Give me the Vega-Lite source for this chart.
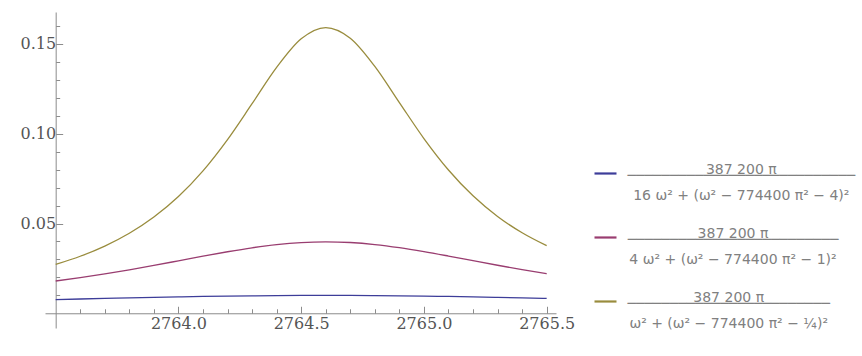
{
  "$schema": "https://vega.github.io/schema/vega-lite/v6.json",
  "autosize": "none",
  "width": 511,
  "height": 316,
  "padding": {"left": 45, "top": 12, "right": 306, "bottom": 28},
  "background": "white",
  "config": {"view": {"stroke": null}},
  "data": {"values": [
    {"x": 2763.5, "y": 0.0076321, "s": "s1"}, {"x": 2763.6, "y": 0.0079529, "s": "s1"}, {"x": 2763.7, "y": 0.0082673, "s": "s1"}, {"x": 2763.8, "y": 0.0085706, "s": "s1"}, {"x": 2763.9, "y": 0.0088574, "s": "s1"}, {"x": 2764.0, "y": 0.009122, "s": "s1"}, {"x": 2764.1, "y": 0.0093587, "s": "s1"}, {"x": 2764.2, "y": 0.0095618, "s": "s1"}, {"x": 2764.3, "y": 0.0097261, "s": "s1"}, {"x": 2764.4, "y": 0.0098472, "s": "s1"}, {"x": 2764.5, "y": 0.0099216, "s": "s1"}, {"x": 2764.6, "y": 0.0099472, "s": "s1"}, {"x": 2764.7, "y": 0.0099231, "s": "s1"}, {"x": 2764.8, "y": 0.0098502, "s": "s1"}, {"x": 2764.9, "y": 0.0097305, "s": "s1"}, {"x": 2765.0, "y": 0.0095674, "s": "s1"}, {"x": 2765.1, "y": 0.0093654, "s": "s1"}, {"x": 2765.2, "y": 0.0091297, "s": "s1"}, {"x": 2765.3, "y": 0.0088659, "s": "s1"}, {"x": 2765.4, "y": 0.0085797, "s": "s1"}, {"x": 2765.5, "y": 0.0082768, "s": "s1"},
    {"x": 2763.5, "y": 0.017976, "s": "s2"}, {"x": 2763.6, "y": 0.019864, "s": "s2"}, {"x": 2763.7, "y": 0.021949, "s": "s2"}, {"x": 2763.8, "y": 0.024225, "s": "s2"}, {"x": 2763.9, "y": 0.026665, "s": "s2"}, {"x": 2764.0, "y": 0.029217, "s": "s2"}, {"x": 2764.1, "y": 0.031792, "s": "s2"}, {"x": 2764.2, "y": 0.034264, "s": "s2"}, {"x": 2764.3, "y": 0.036473, "s": "s2"}, {"x": 2764.4, "y": 0.038235, "s": "s2"}, {"x": 2764.5, "y": 0.039383, "s": "s2"}, {"x": 2764.6, "y": 0.039789, "s": "s2"}, {"x": 2764.7, "y": 0.039407, "s": "s2"}, {"x": 2764.8, "y": 0.03828, "s": "s2"}, {"x": 2764.9, "y": 0.036534, "s": "s2"}, {"x": 2765.0, "y": 0.034337, "s": "s2"}, {"x": 2765.1, "y": 0.03187, "s": "s2"}, {"x": 2765.2, "y": 0.029296, "s": "s2"}, {"x": 2765.3, "y": 0.026742, "s": "s2"}, {"x": 2765.4, "y": 0.024298, "s": "s2"}, {"x": 2765.5, "y": 0.022016, "s": "s2"},
    {"x": 2763.5, "y": 0.02719, "s": "s3"}, {"x": 2763.6, "y": 0.031753, "s": "s3"}, {"x": 2763.7, "y": 0.037439, "s": "s3"}, {"x": 2763.8, "y": 0.044583, "s": "s3"}, {"x": 2763.9, "y": 0.053613, "s": "s3"}, {"x": 2764.0, "y": 0.065031, "s": "s3"}, {"x": 2764.1, "y": 0.079333, "s": "s3"}, {"x": 2764.2, "y": 0.096755, "s": "s3"}, {"x": 2764.3, "y": 0.116709, "s": "s3"}, {"x": 2764.4, "y": 0.136912, "s": "s3"}, {"x": 2764.5, "y": 0.152852, "s": "s3"}, {"x": 2764.6, "y": 0.159153, "s": "s3"}, {"x": 2764.7, "y": 0.153213, "s": "s3"}, {"x": 2764.8, "y": 0.137492, "s": "s3"}, {"x": 2764.9, "y": 0.117343, "s": "s3"}, {"x": 2765.0, "y": 0.097337, "s": "s3"}, {"x": 2765.1, "y": 0.079822, "s": "s3"}, {"x": 2765.2, "y": 0.065425, "s": "s3"}, {"x": 2765.3, "y": 0.053925, "s": "s3"}, {"x": 2765.4, "y": 0.04483, "s": "s3"}, {"x": 2765.5, "y": 0.037635, "s": "s3"}
  ]},
  "mark": {"type": "line", "interpolate": "monotone", "strokeWidth": 1.3},
  "encoding": {
    "x": {
      "field": "x", "type": "quantitative",
      "scale": {"domain": [2763.4565, 2765.538], "nice": false, "zero": false},
      "axis": {
        "title": null, "offset": -14.72, "grid": false,
        "values": [2763.6, 2763.7, 2763.8, 2763.9, 2764.0, 2764.1, 2764.2, 2764.3, 2764.4, 2764.5, 2764.6, 2764.7, 2764.8, 2764.9, 2765.0, 2765.1, 2765.2, 2765.3, 2765.4, 2765.5],
        "labelExpr": "abs(datum.value*2 - round(datum.value*2)) < 0.001 ? format(datum.value, '.1f') : ''",
        "tickSize": {"condition": {"test": "abs(datum.value*2 - round(datum.value*2)) < 0.001", "value": -7}, "value": -4.5},
        "labelOverlap": false, "labelFlush": false,
        "labelFont": "DejaVu Serif", "labelFontSize": 16, "labelColor": "#555555",
        "labelPadding": 9, "labelBaseline": "top",
        "domainColor": "#8c8c8c", "tickColor": "#8c8c8c", "domainWidth": 1, "tickWidth": 1
      }
    },
    "y": {
      "field": "y", "type": "quantitative",
      "scale": {"domain": [-0.0082, 0.1678], "nice": false, "zero": false},
      "axis": {
        "title": null, "offset": -10.68, "grid": false,
        "values": [0.01, 0.02, 0.03, 0.04, 0.05, 0.06, 0.07, 0.08, 0.09, 0.1, 0.11, 0.12, 0.13, 0.14, 0.15, 0.16],
        "labelExpr": "abs(datum.value*20 - round(datum.value*20)) < 0.001 ? format(datum.value, '.2f') : ''",
        "tickSize": {"condition": {"test": "abs(datum.value*20 - round(datum.value*20)) < 0.001", "value": -7}, "value": -4},
        "labelOverlap": false, "labelFlush": false,
        "labelFont": "DejaVu Serif", "labelFontSize": 16, "labelColor": "#555555",
        "labelPadding": 7,
        "domainColor": "#8c8c8c", "tickColor": "#8c8c8c", "domainWidth": 1, "tickWidth": 1
      }
    },
    "color": {
      "field": "s", "type": "nominal",
      "scale": {"domain": ["s1", "s2", "s3"], "range": ["#3D3D99", "#993D70", "#998C3D"]},
      "legend": {
        "title": null, "orient": "none", "legendX": 548, "legendY": 149,
        "padding": 0, "rowPadding": 22,
        "symbolType": "stroke", "symbolSize": 484, "symbolStrokeWidth": 2.2,
        "labelFont": "DejaVu Sans", "labelFontSize": 14, "labelColor": "#808080",
        "labelLimit": 0, "labelAlign": "center", "labelBaseline": "top", "labelOffset": 126,
        "labelExpr": "datum.value == 's1' ? ['387 200 π', '───────────────────────────', '⠀', '⠀', '16 ω² + (ω² − 774400 π² − 4)²'] : datum.value == 's2' ? ['387 200 π', '─────────────────────────', '⠀', '⠀', '4 ω² + (ω² − 774400 π² − 1)²'] : ['387 200 π', '────────────────────────', '⠀', '⠀', 'ω² + (ω² − 774400 π² − ¼)²']",
        "encode": {"labels": {"update": {
          "lineHeight": {"value": 6.5},
          "dy": {"value": -10.7},
          "dx": {"signal": "datum.value == 's2' ? -11 : datum.value == 's3' ? -15.3 : -2.7"}
        }}}
      }
    }
  }
}
